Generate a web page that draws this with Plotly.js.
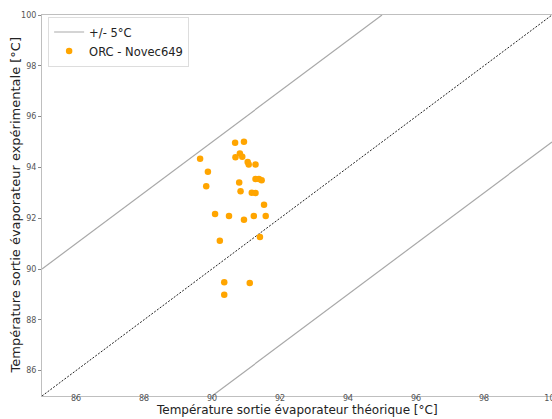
<!DOCTYPE html>
<html>
<head>
<meta charset="utf-8">
<script src="https://cdn.plot.ly/plotly-3.0.1.min.js"></script>
<style>html,body{margin:0;padding:0;background:#fff;}#chart{width:552px;height:419px;}</style>
</head>
<body>
<div id="chart"></div>
<script>
// Data
const theoretical = [90.68, 90.94, 89.65, 90.82, 90.69, 90.89, 91.05, 91.08, 91.28, 89.88,
  90.80, 91.28, 91.38, 91.46, 89.83, 90.84, 91.17, 91.28, 91.53, 90.09,
  90.50, 90.94, 91.23, 91.58, 90.23, 91.41, 90.36, 91.11, 90.36];
const experimental = [94.97, 95.01, 94.34, 94.55, 94.40, 94.42, 94.21, 94.11, 94.11, 93.83,
  93.41, 93.54, 93.54, 93.49, 93.26, 93.06, 93.00, 92.99, 92.53, 92.17,
  92.09, 91.94, 92.09, 92.09, 91.11, 91.26, 89.48, 89.45, 88.99];
const diagX = [85, 100];
const diagY = [85, 100];
const upperX = [85, 95];
const upperY = [90, 100];
const lowerX = [90, 100];
const lowerY = [85, 95];
const tickVals = [86, 88, 90, 92, 94, 96, 98, 100];
const seriesName = 'ORC - Novec649';
const bandName = '+/- 5°C';
const xTitle = 'Température sortie évaporateur théorique [°C]';
const yTitle = 'Température sortie évaporateur expérimentale [°C]';

const grey = '#a9a9a9';
const traces = [
  {x: upperX, y: upperY, mode: 'lines', name: bandName, line: {color: grey, width: 1.2}, showlegend: true, hoverinfo: 'skip'},
  {x: lowerX, y: lowerY, mode: 'lines', name: bandName, line: {color: grey, width: 1.2}, showlegend: false, hoverinfo: 'skip'},
  {x: diagX, y: diagY, mode: 'lines', name: 'y=x', line: {color: '#222', width: 1, dash: '2px,1.5px'}, showlegend: false, hoverinfo: 'skip'},
  {x: theoretical, y: experimental, mode: 'markers', name: seriesName, marker: {color: '#FFA500', size: 6.5}}
];

const axisCommon = {
  showgrid: false, zeroline: false, showline: true, linecolor: '#bfbfbf', linewidth: 1, mirror: true,
  ticks: 'outside', ticklen: 3, tickcolor: '#888', tickwidth: 1,
  tickfont: {family: 'DejaVu Sans', size: 8, color: '#555'},
  tickvals: tickVals, automargin: false, ticklabeloverflow: 'allow'
};

const layout = {
  width: 552, height: 419,
  margin: {l: 42, r: 0, t: 15, b: 23},
  paper_bgcolor: '#fff', plot_bgcolor: '#fff',
  font: {family: 'DejaVu Sans', color: '#222'},
  xaxis: Object.assign({}, axisCommon, {range: [85, 100], ticklen: 2, ticklabelstandoff: -8}),
  yaxis: Object.assign({}, axisCommon, {range: [85, 100]}),
  annotations: [
    {text: xTitle, xref: 'paper', yref: 'paper', x: 0.5, y: -0.0604, xanchor: 'center', yanchor: 'bottom',
     showarrow: false, font: {family: 'DejaVu Sans', size: 12, color: '#222'}},
    {text: yTitle, xref: 'paper', yref: 'paper', x: -0.051, y: 0.5, xanchor: 'center', yanchor: 'middle',
     textangle: -90, showarrow: false, font: {family: 'DejaVu Sans', size: 13, color: '#222'}}
  ],
  legend: {
    x: 0.012, y: 0.996, xanchor: 'left', yanchor: 'top',
    bgcolor: 'rgba(255,255,255,0.9)', bordercolor: '#dddddd', borderwidth: 1,
    font: {family: 'DejaVu Sans', size: 11.5, color: '#222'},
    tracegroupgap: 0
  },
  showlegend: true
};

Plotly.newPlot('chart', traces, layout, {displayModeBar: false, staticPlot: true});
</script>
</body>
</html>
